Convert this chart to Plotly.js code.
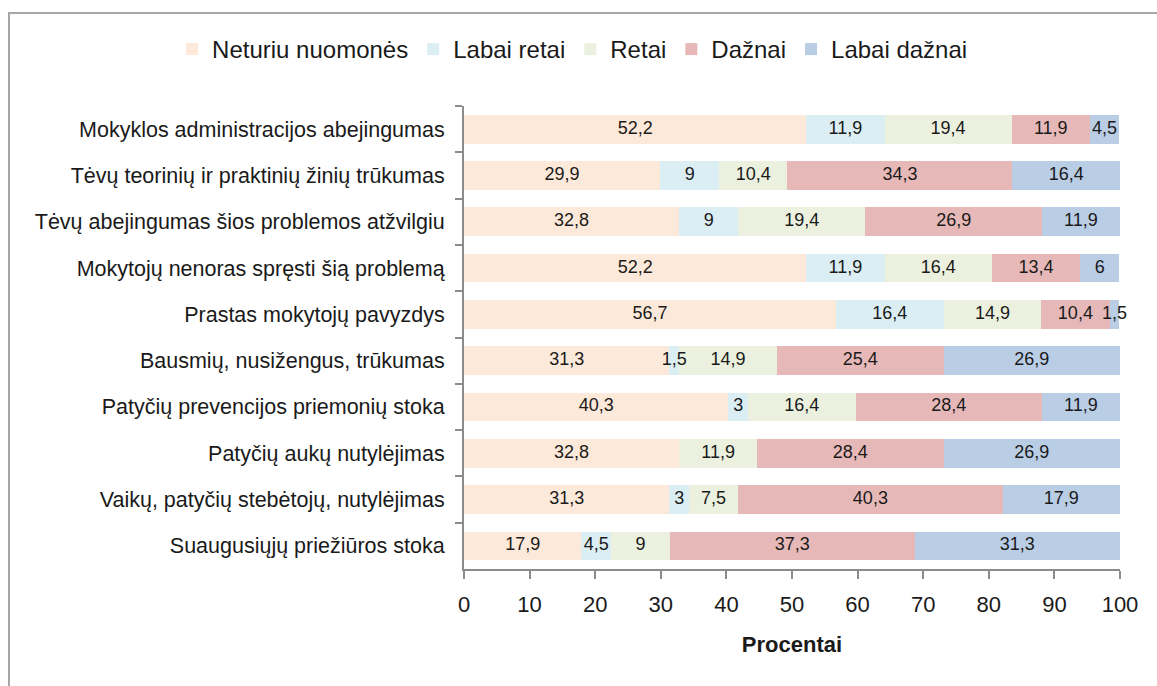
<!DOCTYPE html>
<html>
<head>
<meta charset="utf-8">
<script src="https://cdn.plot.ly/plotly-3.0.1.min.js"></script>
<style>
  html, body { margin: 0; padding: 0; background: #fff; overflow: hidden; }
  #chart { position: absolute; left: 0; top: 0; width: 1157px; height: 686px; }
  #frame { position: absolute; left: 8px; top: 12px; width: 1300px; height: 800px;
           border-left: 2px solid #a6a6a6; border-top: 2px solid #a6a6a6; pointer-events: none; }
</style>
</head>
<body>
<div id="chart"></div>
<div id="frame"></div>
<script>
const categories = [
  "Mokyklos administracijos abejingumas",
  "Tėvų teorinių ir praktinių žinių trūkumas",
  "Tėvų abejingumas šios problemos atžvilgiu",
  "Mokytojų nenoras spręsti šią problemą",
  "Prastas mokytojų pavyzdys",
  "Bausmių, nusižengus, trūkumas",
  "Patyčių prevencijos priemonių stoka",
  "Patyčių aukų nutylėjimas",
  "Vaikų, patyčių stebėtojų, nutylėjimas",
  "Suaugusiųjų priežiūros stoka"
];
const seriesNames = ["Neturiu nuomonės", "Labai retai", "Retai", "Dažnai", "Labai dažnai"];
const neturiuNuomones = [52.2, 29.9, 32.8, 52.2, 56.7, 31.3, 40.3, 32.8, 31.3, 17.9];
const labaiRetai      = [11.9, 9,    9,    11.9, 16.4, 1.5,  3,    0,    3,    4.5];
const retai           = [19.4, 10.4, 19.4, 16.4, 14.9, 14.9, 16.4, 11.9, 7.5,  9];
const daznai          = [11.9, 34.3, 26.9, 13.4, 10.4, 25.4, 28.4, 28.4, 40.3, 37.3];
const labaiDaznai     = [4.5,  16.4, 11.9, 6,    1.5,  26.9, 11.9, 26.9, 17.9, 31.3];
const xTicks = [0, 10, 20, 30, 40, 50, 60, 70, 80, 90, 100];

const seriesValues = [neturiuNuomones, labaiRetai, retai, daznai, labaiDaznai];
const colors = ["#FDE9D9", "#DAEEF3", "#EBF1DE", "#E6B9B8", "#B9CDE5"];
const FONT = "Liberation Sans, Arial, sans-serif";

const fmt = v => v === 0 ? "" : String(v).replace(".", ",");

const traces = [];
seriesValues.forEach((vals, i) => {
  traces.push({
    type: "bar", orientation: "h",
    name: seriesNames[i],
    x: vals, y: categories,
    marker: { color: colors[i], line: { width: 0 } },
    hoverinfo: "x+name"
  });
});
// labels centered in each segment
const cum = categories.map(() => 0);
seriesValues.forEach((vals) => {
  const xs = [], ys = [], ts = [];
  vals.forEach((v, j) => {
    if (v > 0) { xs.push(cum[j] + v / 2); ys.push(categories[j]); ts.push(fmt(v)); }
    cum[j] += v;
  });
  traces.push({
    type: "scatter", mode: "text", x: xs, y: ys, text: ts,
    textposition: "middle center",
    textfont: { family: FONT, size: 18, color: "#1a1a1a" },
    showlegend: false, hoverinfo: "skip", cliponaxis: false
  });
});

const layout = {
  width: 1157, height: 686,
  margin: { l: 464, r: 37, t: 106, b: 117 },
  paper_bgcolor: "#ffffff", plot_bgcolor: "#ffffff",
  barmode: "stack", bargap: 0.38,
  separators: ", ",
  showlegend: true,
  legend: {
    orientation: "h",
    x: -0.445, xanchor: "left", y: 1.122, yanchor: "middle",
    font: { family: FONT, size: 24, color: "#1a1a1a" },
    traceorder: "normal", itemclick: false, itemdoubleclick: false
  },
  xaxis: {
    range: [0, 100], tickvals: xTicks, ticktext: xTicks.map(String),
    showgrid: false, zeroline: false,
    showline: true, linecolor: "#8c8c8c", linewidth: 2,
    ticks: "outside", ticklen: 8, tickwidth: 2, tickcolor: "#8c8c8c",
    ticklabelstandoff: 7,
    tickfont: { family: FONT, size: 22, color: "#1a1a1a" },
    title: { text: "<b>Procentai</b>", standoff: 20,
             font: { family: FONT, size: 22, color: "#1a1a1a" } }
  },
  yaxis: {
    type: "category", autorange: "reversed",
    showgrid: false, zeroline: false,
    showline: true, linecolor: "#8c8c8c", linewidth: 2,
    ticks: "outside", tickson: "boundaries", ticklen: 7, tickwidth: 2, tickcolor: "#8c8c8c",
    ticklabelstandoff: 13,
    tickfont: { family: FONT, size: 21.5, color: "#1a1a1a" }
  }
};

Plotly.newPlot("chart", traces, layout, { displayModeBar: false, staticPlot: true });
</script>
</body>
</html>
